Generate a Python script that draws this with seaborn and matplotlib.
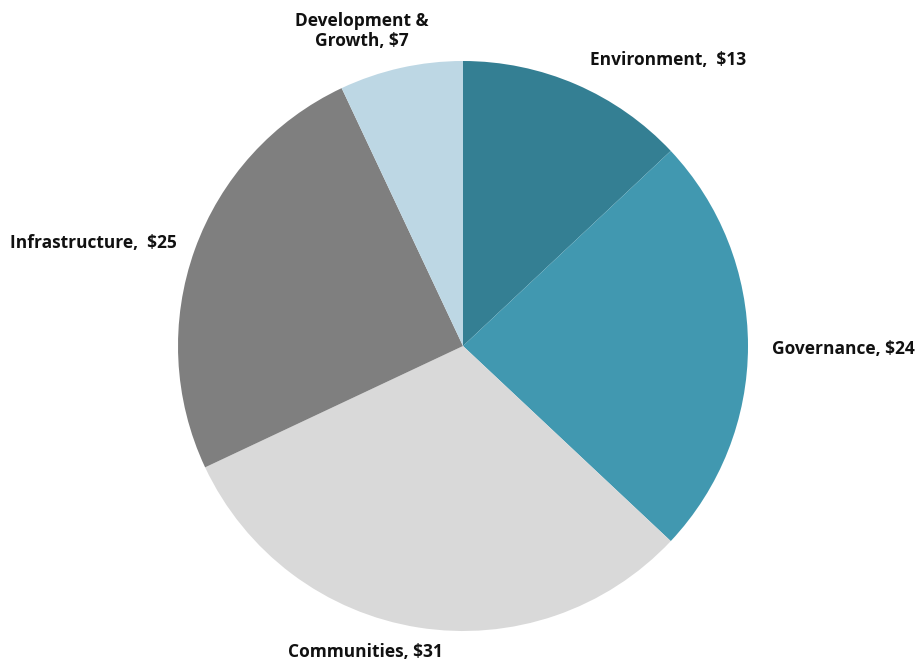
import matplotlib
matplotlib.use("Agg")
import matplotlib.pyplot as plt
import seaborn as sns

# Spending by category (in $)
categories = ["Environment", "Governance", "Communities", "Infrastructure", "Development &\nGrowth"]
values = [13, 24, 31, 25, 7]
colors = ["#347f93", "#4198b0", "#d9d9d9", "#7f7f7f", "#bdd7e4"]
label_texts = ["Environment,  $13", "Governance, $24", "Communities, $31",
               "Infrastructure,  $25", "Development &\nGrowth, $7"]

sns.set_theme(style="white")
plt.rcParams["font.family"] = ["Open Sans", "DejaVu Sans"]

W, H = 919, 664
fig = plt.figure(figsize=(W / 100, H / 100), dpi=100)
ax = fig.add_axes([0, 0, 1, 1])

# pie centre and radius in pixel units (y measured from the top)
cx, cy, r = 463, 346, 285
ax.pie(values, colors=colors, startangle=90, counterclock=False,
       radius=r, center=(cx, H - cy), wedgeprops=dict(linewidth=0))

ax.set_xlim(0, W)
ax.set_ylim(0, H)
ax.set_aspect("equal")
ax.axis("off")

# label anchor positions (pixels from top-left)
label_pos = [(668, 60), (843, 349), (365, 652), (93, 243), (362, 31)]
for txt, (x, y) in zip(label_texts, label_pos):
    ax.text(x, H - y, txt, ha="center", va="center", fontsize=12.5,
            fontweight="bold", color="#111111", linespacing=1.1)

fig.savefig("out.png", dpi=100, facecolor="white")
